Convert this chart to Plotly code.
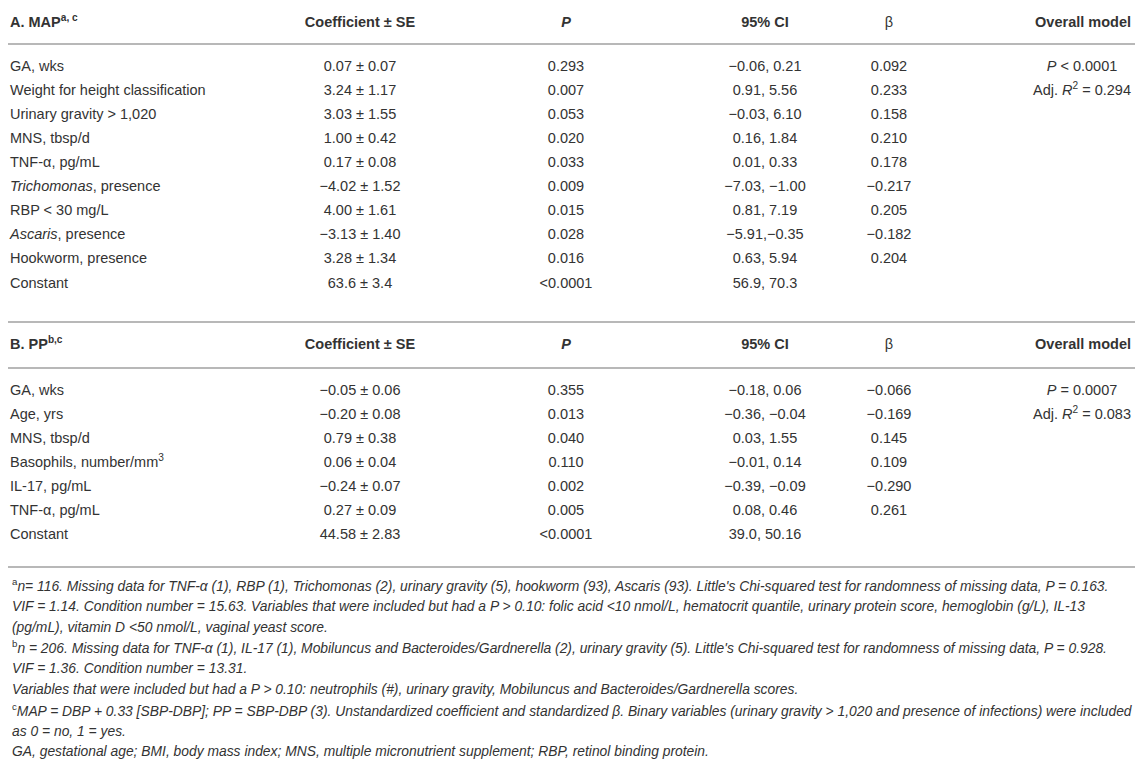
import plotly.graph_objects as go

# ---------------- data ----------------
col_headers = ["Coefficient ± SE", "<i>P</i>", "95% CI", "β", "Overall model"]

A_title = "A. MAP<sup>a, c</sup>"
A_vars = ["GA, wks", "Weight for height classification", "Urinary gravity &gt; 1,020",
          "MNS, tbsp/d", "TNF-α, pg/mL", "<i>Trichomonas</i>, presence",
          "RBP &lt; 30 mg/L", "<i>Ascaris</i>, presence", "Hookworm, presence", "Constant"]
A_coef = ["0.07 ± 0.07", "3.24 ± 1.17", "3.03 ± 1.55", "1.00 ± 0.42", "0.17 ± 0.08",
          "−4.02 ± 1.52", "4.00 ± 1.61", "−3.13 ± 1.40", "3.28 ± 1.34", "63.6 ± 3.4"]
A_p = ["0.293", "0.007", "0.053", "0.020", "0.033", "0.009", "0.015", "0.028", "0.016", "&lt;0.0001"]
A_ci = ["−0.06, 0.21", "0.91, 5.56", "−0.03, 6.10", "0.16, 1.84", "0.01, 0.33",
        "−7.03, −1.00", "0.81, 7.19", "−5.91,−0.35", "0.63, 5.94", "56.9, 70.3"]
A_beta = ["0.092", "0.233", "0.158", "0.210", "0.178", "−0.217", "0.205", "−0.182", "0.204"]
A_model = ["<i>P</i> &lt; 0.0001", "Adj. <i>R</i><sup>2</sup> = 0.294"]

B_title = "B. PP<sup>b,c</sup>"
B_vars = ["GA, wks", "Age, yrs", "MNS, tbsp/d", "Basophils, number/mm<sup>3</sup>",
          "IL-17, pg/mL", "TNF-α, pg/mL", "Constant"]
B_coef = ["−0.05 ± 0.06", "−0.20 ± 0.08", "0.79 ± 0.38", "0.06 ± 0.04",
          "−0.24 ± 0.07", "0.27 ± 0.09", "44.58 ± 2.83"]
B_p = ["0.355", "0.013", "0.040", "0.110", "0.002", "0.005", "&lt;0.0001"]
B_ci = ["−0.18, 0.06", "−0.36, −0.04", "0.03, 1.55", "−0.01, 0.14",
        "−0.39, −0.09", "0.08, 0.46", "39.0, 50.16"]
B_beta = ["−0.066", "−0.169", "0.145", "0.109", "−0.290", "0.261"]
B_model = ["<i>P</i> = 0.0007", "Adj. <i>R</i><sup>2</sup> = 0.083"]

footnotes = [
    "<sup>a</sup><i>n= 116. Missing data for TNF-α (1), RBP (1), Trichomonas (2), urinary gravity (5), hookworm (93), Ascaris (93). Little's Chi-squared test for randomness of missing data, P = 0.163.</i>",
    "<i>VIF = 1.14. Condition number = 15.63. Variables that were included but had a P &gt; 0.10: folic acid &lt;10 nmol/L, hematocrit quantile, urinary protein score, hemoglobin (g/L), IL-13</i>",
    "<i>(pg/mL), vitamin D &lt;50 nmol/L, vaginal yeast score.</i>",
    "<sup>b</sup><i>n = 206. Missing data for TNF-α (1), IL-17 (1), Mobiluncus and Bacteroides/Gardnerella (2), urinary gravity (5). Little's Chi-squared test for randomness of missing data, P = 0.928.</i>",
    "<i>VIF = 1.36. Condition number = 13.31.</i>",
    "<i>Variables that were included but had a P &gt; 0.10: neutrophils (#), urinary gravity, Mobiluncus and Bacteroides/Gardnerella scores.</i>",
    "<sup>c</sup><i>MAP = DBP + 0.33 [SBP-DBP]; PP = SBP-DBP (3). Unstandardized coefficient and standardized β. Binary variables (urinary gravity &gt; 1,020 and presence of infections) were included</i>",
    "<i>as 0 = no, 1 = yes.</i>",
    "<i>GA, gestational age; BMI, body mass index; MNS, multiple micronutrient supplement; RBP, retinol binding protein.</i>",
]

# ---------------- layout constants ----------------
PAGE_W, PAGE_H = 1143, 759
BODY = 8                      # default page margin around the plot
W, H = PAGE_W - BODY, PAGE_H - BODY
FONT = "Liberation Sans, Arial, sans-serif"
TXT = "#333333"
LINE = "#b8b8b8"
FS = 14.5
FS_FN = 13.85
col_x = [360, 566, 765, 889, 1082]   # centers of value columns
left_x = 10
model_hdr_x = 1131

A_head_y, A_row0, A_dy = 23, 67, 24.1
B_head_y, B_row0, B_dy = 345, 391, 24.0
rule_y = [3, 44, 322, 368, 567]
fn_y0, fn_dy = 585, 20.8

fig = go.Figure()


def add_col(x, ys, texts, pos="middle center", bold=False):
    t = [("<b>%s</b>" % s if bold else s) for s in texts]
    fig.add_trace(go.Scatter(
        x=[x] * len(ys), y=ys, text=t, mode="text", textposition=pos,
        textfont=dict(family=FONT, size=FS, color=TXT),
        hoverinfo="skip", showlegend=False, cliponaxis=False))


def section(title, head_y, row0, dy, vars_, coef, p, ci, beta, model):
    ys = [row0 + i * dy for i in range(len(vars_))]
    # header row
    add_col(left_x, [head_y], [title], pos="middle right", bold=True)
    for j, h in enumerate(col_headers[:-1]):
        add_col(col_x[j], [head_y], [h], bold=(h != "β"))
    add_col(model_hdr_x, [head_y], [col_headers[-1]], pos="middle left", bold=True)
    # body rows
    add_col(left_x, ys, vars_, pos="middle right")
    add_col(col_x[0], ys, coef)
    add_col(col_x[1], ys, p)
    add_col(col_x[2], ys[:len(ci)], ci)
    add_col(col_x[3], ys[:len(beta)], beta)
    add_col(col_x[4], ys[:len(model)], model)


section(A_title, A_head_y, A_row0, A_dy, A_vars, A_coef, A_p, A_ci, A_beta, A_model)
section(B_title, B_head_y, B_row0, B_dy, B_vars, B_coef, B_p, B_ci, B_beta, B_model)

for yy in rule_y:
    fig.add_shape(type="line", x0=0, x1=PAGE_W, y0=yy, y1=yy, xref="x", yref="y",
                  line=dict(color=LINE, width=2))

for i, f in enumerate(footnotes):
    fig.add_annotation(x=left_x, y=fn_y0 + i * fn_dy, text=f, showarrow=False,
                       xref="x", yref="y", xanchor="left", yanchor="middle", align="left",
                       font=dict(family=FONT, size=FS_FN, color=TXT))

fig.update_layout(
    width=W, height=H, margin=dict(l=0, r=0, t=0, b=0),
    paper_bgcolor="white", plot_bgcolor="white",
    xaxis=dict(range=[BODY, PAGE_W], visible=False, fixedrange=True),
    yaxis=dict(range=[PAGE_H, BODY], visible=False, fixedrange=True),
)

fig.write_html("out.html")
